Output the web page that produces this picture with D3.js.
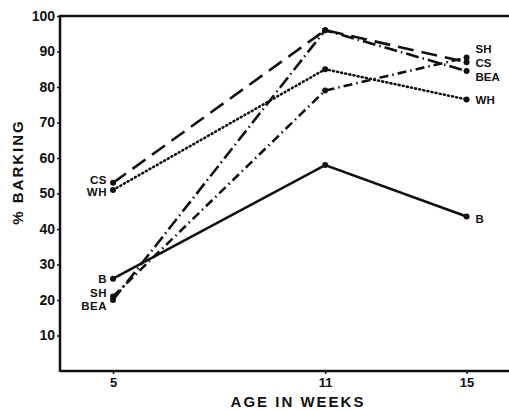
<!DOCTYPE html>
<html><head><meta charset="utf-8">
<script src="https://cdn.jsdelivr.net/npm/d3@7"></script>
<style>body{margin:0;background:#fff}svg{display:block}text{font-family:"Liberation Sans",Arial,sans-serif;font-weight:bold;fill:#111}</style>
</head><body><svg id="c" width="509" height="410"></svg>
<script>
const weeks = [5, 11, 15];
const yTicks = [10,20,30,40,50,60,70,80,90,100];
const seriesNames = ["B","CS","WH","SH","BEA"];
const valB   = [26, 58, 43.5];
const valCS  = [53, 96, 87];
const valWH  = [51, 85, 76.5];
const valSH  = [21, 79, 88.3];
const valBEA = [20, 96, 84.5];
const dashes = {B:null, CS:"16,8", WH:"1,3.2", SH:"9,4,1.5,4", BEA:"13,4,1.5,4"};
const leftLabelDy = {B:0, CS:-3, WH:2, SH:-3, BEA:6};
const rightLabelDy = {B:2, CS:1, WH:1, SH:-9, BEA:6};
const vals = {B:valB, CS:valCS, WH:valWH, SH:valSH, BEA:valBEA};

const svg = d3.select("#c");
const x = d3.scaleLinear().domain([3.5, 16.2]).range([60, 509]);
const y = d3.scaleLinear().domain([0, 100]).range([371, 16]);

svg.append("line").attr("x1",60).attr("x2",509).attr("y1",y(100)).attr("y2",y(100)).attr("stroke","#111").attr("stroke-width",2.5);
svg.append("line").attr("x1",60).attr("x2",509).attr("y1",y(0)).attr("y2",y(0)).attr("stroke","#111").attr("stroke-width",2.5);
svg.append("line").attr("x1",60).attr("x2",60).attr("y1",y(100)-1).attr("y2",y(0)+1).attr("stroke","#111").attr("stroke-width",2.5);

const ya = svg.append("g").attr("transform","translate(60,0)")
  .call(d3.axisLeft(y).tickValues(yTicks).tickSize(3).tickPadding(2));
ya.select(".domain").remove();
ya.selectAll("line").attr("stroke","#111").attr("stroke-width",1.5);
ya.selectAll("text").style("font-size","14px").attr("fill","#111").style("font-family","'Liberation Sans',Arial,sans-serif");

const xa = svg.append("g").attr("transform",`translate(0,${y(0)})`)
  .call(d3.axisBottom(x).tickValues(weeks).tickSize(3).tickPadding(4));
xa.select(".domain").remove();
xa.selectAll("line").attr("stroke","#111").attr("stroke-width",1.5);
xa.selectAll("text").style("font-size","13px").attr("fill","#111").style("font-family","'Liberation Sans',Arial,sans-serif");

svg.append("text").attr("x",298).attr("y",407).attr("text-anchor","middle")
  .style("font-size","15px").style("letter-spacing","2px").text("AGE IN WEEKS");
svg.append("text").attr("transform","translate(23,172) rotate(-90)").attr("text-anchor","middle")
  .style("font-size","15px").style("letter-spacing","2px").text("% BARKING");

const line = d3.line().x((d,i)=>x(weeks[i])).y(d=>y(d));
seriesNames.forEach(n=>{
  const p = svg.append("path").datum(vals[n]).attr("d",line).attr("fill","none")
    .attr("stroke","#111").attr("stroke-width",2.6);
  if (dashes[n]) p.attr("stroke-dasharray",dashes[n]);
  if (n==="WH") p.attr("stroke-linecap","round");
  svg.selectAll(null).data(vals[n]).enter().append("circle")
    .attr("cx",(d,i)=>x(weeks[i])).attr("cy",d=>y(d)).attr("r",3).attr("fill","#111");
  svg.append("text").attr("x",x(weeks[0])-6).attr("y",y(vals[n][0])+4+leftLabelDy[n])
    .attr("text-anchor","end").style("font-size","11.5px").style("letter-spacing","0.5px").text(n);
  svg.append("text").attr("x",x(weeks[2])+9).attr("y",y(vals[n][2])+4+rightLabelDy[n])
    .attr("text-anchor","start").style("font-size","11.5px").text(n);
});
</script></body></html>
